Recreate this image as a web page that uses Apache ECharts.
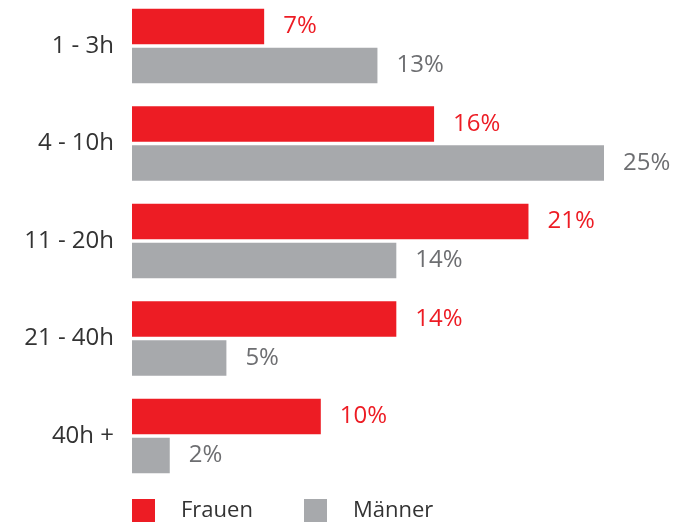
<!DOCTYPE html>
<html><head><meta charset="utf-8">
<script src="https://cdn.jsdelivr.net/npm/echarts@6/dist/echarts.min.js"></script>
<style>html,body{margin:0;padding:0;background:#fff;overflow:hidden}#c{width:684px;height:531px;margin-top:-3px}</style>
</head><body><div id="c"></div>
<script>
const categories = ['1 - 3h', '4 - 10h', '11 - 20h', '21 - 40h', '40h +'];
const frauen = [7, 16, 21, 14, 10];
const maenner = [13, 25, 14, 5, 2];
const seriesNames = ['Frauen', 'Männer'];
const RED = '#ED1C24', GREY = '#A7A9AC';
const FONT = 'Open Sans';
const chart = echarts.init(document.getElementById('c'), null, {renderer: 'canvas'});
chart.setOption({
  animation: false,
  textStyle: {fontFamily: FONT},
  grid: {left: 132, right: 80, top: 0.25, height: 487.5, containLabel: false},
  xAxis: {type: 'value', min: 0, max: 25, show: false},
  yAxis: {type: 'category', data: categories, inverse: true,
    axisLine: {show: false}, axisTick: {show: false}, splitLine: {show: false},
    axisLabel: {margin: 18, color: '#333', fontSize: 24, fontFamily: FONT}},
  legend: [
    {data: [seriesNames[0]], left: 132, top: 502, padding: 0, itemWidth: 23, itemHeight: 23, icon: 'rect',
     textStyle: {fontSize: 22, color: '#333', fontFamily: FONT, padding: [0, 0, 0, 21]}},
    {data: [seriesNames[1]], left: 304, top: 502, padding: 0, itemWidth: 23, itemHeight: 23, icon: 'rect',
     textStyle: {fontSize: 22, color: '#333', fontFamily: FONT, padding: [0, 0, 0, 21]}}
  ],
  series: [
    {name: seriesNames[0], type: 'bar', data: frauen, barWidth: 35.5, barGap: '10%',
     itemStyle: {color: RED},
     label: {show: true, position: 'right', distance: 19, formatter: '{c}%', color: RED, fontSize: 24, fontFamily: FONT}},
    {name: seriesNames[1], type: 'bar', data: maenner, barWidth: 35.5, barGap: '10%',
     itemStyle: {color: GREY},
     label: {show: true, position: 'right', distance: 19, formatter: '{c}%', color: '#6D6E71', fontSize: 24, fontFamily: FONT}}
  ]
});
</script></body></html>
